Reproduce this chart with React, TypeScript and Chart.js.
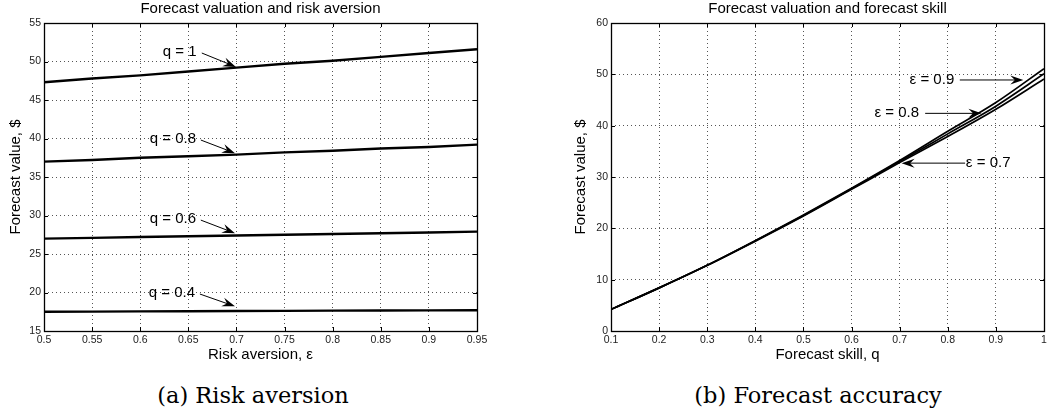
import React, { useEffect, useRef } from "react";
import { Chart, registerables } from "chart.js";

Chart.register(...registerables);

// ---------- data: panel (a) ----------
const riskAversion = [0.5, 0.55, 0.6, 0.65, 0.7, 0.75, 0.8, 0.85, 0.9, 0.95];
const valueQ10 = [47.3, 47.8, 48.2, 48.7, 49.2, 49.7, 50.1, 50.6, 51.1, 51.6];
const valueQ08 = [37.0, 37.2, 37.5, 37.7, 37.9, 38.2, 38.4, 38.7, 38.9, 39.2];
const valueQ06 = [27.0, 27.1, 27.2, 27.3, 27.4, 27.5, 27.6, 27.7, 27.8, 27.9];
const valueQ04 = [17.5, 17.52, 17.55, 17.57, 17.6, 17.62, 17.64, 17.66, 17.68, 17.7];

const leftXTicks = [0.5, 0.55, 0.6, 0.65, 0.7, 0.75, 0.8, 0.85, 0.9, 0.95];
const leftYTicks = [15, 20, 25, 30, 35, 40, 45, 50, 55];

const leftLabels = ["q = 1", "q = 0.8", "q = 0.6", "q = 0.4"];
const leftLabelX = [0.641, 0.634, 0.634, 0.633];
const leftLabelY = [51.3, 39.9, 29.5, 19.9];
const leftTailX = [0.664, 0.663, 0.663, 0.662];
const leftTailY = [51.1, 39.8, 29.4, 19.8];
const leftTipX = [0.6995, 0.6985, 0.6985, 0.6985];
const leftTipY = [49.3, 38.1, 27.7, 18.2];

// ---------- data: panel (b) ----------
const forecastSkill = [0.1, 0.2, 0.3, 0.4, 0.5, 0.6, 0.7, 0.8, 0.9, 1.0];
const valueEps07 = [4.2, 8.4, 12.8, 17.5, 22.4, 27.6, 32.8, 37.9, 43.2, 49.1];
const valueEps08 = [4.2, 8.4, 12.8, 17.6, 22.5, 27.7, 33.0, 38.4, 43.8, 50.1];
const valueEps09 = [4.2, 8.4, 12.8, 17.6, 22.6, 27.8, 33.2, 38.9, 44.5, 51.1];

const rightXTicks = [0.1, 0.2, 0.3, 0.4, 0.5, 0.6, 0.7, 0.8, 0.9, 1];
const rightYTicks = [0, 10, 20, 30, 40, 50, 60];

const rightLabels = ["ε = 0.9", "ε = 0.8", "ε = 0.7"];
const rightLabelX = [0.767, 0.694, 0.884];
const rightLabelY = [48.9, 42.4, 32.7];
const rightTailX = [0.825, 0.753, 0.836];
const rightTailY = [48.9, 42.4, 32.7];
const rightTipX = [0.957, 0.87, 0.704];
const rightTipY = [48.9, 42.4, 32.7];

const FONT = '"Liberation Sans", Arial, Helvetica, sans-serif';

type Ann = {
  labels: string[];
  lx: number[];
  ly: number[];
  tx: number[];
  ty: number[];
  hx: number[];
  hy: number[];
};

type PanelSpec = {
  width: number;
  height: number;
  padLeft: number;
  padRight: number;
  title: string;
  xTitle: string;
  yTitle: string;
  yTitlePad: number;
  xMin: number;
  xMax: number;
  yMin: number;
  yMax: number;
  xTicks: number[];
  yTicks: number[];
  xs: number[];
  smooth: boolean;
  series: { values: number[]; width: number }[];
  ann: Ann;
};

function drawArrow(ctx: CanvasRenderingContext2D, x1: number, y1: number, x2: number, y2: number) {
  const ang = Math.atan2(y2 - y1, x2 - x1);
  const c = Math.cos(ang);
  const s = Math.sin(ang);
  const len = 13;
  const hw = 4.5;
  ctx.save();
  ctx.strokeStyle = "#000";
  ctx.fillStyle = "#000";
  ctx.lineWidth = 1;
  ctx.beginPath();
  ctx.moveTo(x1, y1);
  ctx.lineTo(x2 - c * len * 0.6, y2 - s * len * 0.6);
  ctx.stroke();
  ctx.beginPath();
  ctx.moveTo(x2, y2);
  ctx.lineTo(x2 - c * len - s * hw, y2 - s * len + c * hw);
  ctx.lineTo(x2 - c * len * 0.65, y2 - s * len * 0.65);
  ctx.lineTo(x2 - c * len + s * hw, y2 - s * len - c * hw);
  ctx.closePath();
  ctx.fill();
  ctx.restore();
}

function Panel({ spec }: { spec: PanelSpec }) {
  const ref = useRef<HTMLCanvasElement | null>(null);

  useEffect(() => {
    const canvas = ref.current;
    if (!canvas) return;

    const framePlugin = {
      id: "frame",
      afterDatasetsDraw(chart: any) {
        const { ctx, chartArea } = chart;
        const { left, right, top, bottom } = chartArea;
        const xs = chart.scales.x;
        const ys = chart.scales.y;
        ctx.save();
        // inward tick marks
        ctx.strokeStyle = "#000";
        ctx.lineWidth = 1;
        ctx.beginPath();
        spec.xTicks.forEach((v) => {
          const px = Math.round(xs.getPixelForValue(v)) + 0.5;
          ctx.moveTo(px, bottom);
          ctx.lineTo(px, bottom - 4);
          ctx.moveTo(px, top);
          ctx.lineTo(px, top + 4);
        });
        spec.yTicks.forEach((v) => {
          const py = Math.round(ys.getPixelForValue(v)) + 0.5;
          ctx.moveTo(left, py);
          ctx.lineTo(left + 4, py);
          ctx.moveTo(right, py);
          ctx.lineTo(right - 4, py);
        });
        ctx.stroke();
        // box
        ctx.lineWidth = 1.3;
        ctx.strokeRect(Math.round(left) + 0.5, Math.round(top) + 0.5, Math.round(right - left), Math.round(bottom - top));
        // annotations
        const a = spec.ann;
        ctx.font = `15px ${FONT}`;
        ctx.fillStyle = "#000";
        ctx.textAlign = "center";
        ctx.textBaseline = "middle";
        a.labels.forEach((t, i) => {
          ctx.fillText(t, xs.getPixelForValue(a.lx[i]), ys.getPixelForValue(a.ly[i]));
          drawArrow(
            ctx,
            xs.getPixelForValue(a.tx[i]),
            ys.getPixelForValue(a.ty[i]),
            xs.getPixelForValue(a.hx[i]),
            ys.getPixelForValue(a.hy[i])
          );
        });
        // title
        ctx.font = `15px ${FONT}`;
        ctx.fillText(spec.title, (left + right) / 2, top - 14.5);
        ctx.restore();
      },
    };

    const chart = new Chart(canvas, {
      type: "line",
      data: {
        datasets: spec.series.map((s) => ({
          data: spec.xs.map((x, i) => ({ x, y: s.values[i] })),
          borderColor: "#000",
          borderWidth: s.width,
          pointRadius: 0,
          fill: false,
          tension: 0,
          cubicInterpolationMode: spec.smooth ? ("monotone" as const) : ("default" as const),
        })),
      },
      options: {
        animation: false,
        responsive: false,
        devicePixelRatio: 1,
        layout: { padding: { top: 23, right: spec.padRight, left: spec.padLeft, bottom: 0 } },
        plugins: { legend: { display: false }, tooltip: { enabled: false }, title: { display: false } },
        scales: {
          x: {
            type: "linear",
            min: spec.xMin,
            max: spec.xMax,
            afterBuildTicks: (s: any) => {
              s.ticks = spec.xTicks.map((v) => ({ value: v }));
            },
            afterFit: (s: any) => {
              s.height = spec.height - 331;
            },
            ticks: {
              autoSkip: false,
              maxRotation: 0,
              padding: 3,
              color: "#222",
              font: { family: FONT, size: 10.5 },
              callback: (v: any) => String(v),
            },
            grid: { color: "#555", lineWidth: 1, drawTicks: false },
            border: { display: false, dash: [1, 3] },
            title: {
              display: true,
              text: spec.xTitle,
              color: "#000",
              font: { family: FONT, size: 15 },
              padding: { top: 0, bottom: 4 },
            },
          },
          y: {
            type: "linear",
            min: spec.yMin,
            max: spec.yMax,
            afterBuildTicks: (s: any) => {
              s.ticks = spec.yTicks.map((v) => ({ value: v }));
            },
            afterFit: (s: any) => {
              s.width = 44;
            },
            ticks: {
              autoSkip: false,
              padding: 3,
              color: "#222",
              font: { family: FONT, size: 10.5 },
              callback: (v: any) => String(v),
            },
            grid: { color: "#555", lineWidth: 1, drawTicks: false },
            border: { display: false, dash: [1, 3] },
            title: {
              display: true,
              text: spec.yTitle,
              color: "#000",
              font: { family: FONT, size: 15 },
              padding: { top: spec.yTitlePad, bottom: 0 },
            },
          },
        },
      },
      plugins: [framePlugin],
    } as any);

    return () => chart.destroy();
  }, [spec]);

  return (
    <canvas
      ref={ref}
      width={spec.width}
      height={spec.height}
      style={{ width: spec.width, height: spec.height, display: "block" }}
    />
  );
}

const leftSpec: PanelSpec = {
  width: 530,
  height: 368,
  padLeft: 0,
  padRight: 53,
  title: "Forecast valuation and risk aversion",
  xTitle: "Risk aversion, ε",
  yTitle: "Forecast value, $",
  yTitlePad: 7,
  xMin: 0.5,
  xMax: 0.95,
  yMin: 15,
  yMax: 55,
  xTicks: leftXTicks,
  yTicks: leftYTicks,
  xs: riskAversion,
  smooth: false,
  series: [
    { values: valueQ10, width: 2.4 },
    { values: valueQ08, width: 2.4 },
    { values: valueQ06, width: 2.4 },
    { values: valueQ04, width: 2.4 },
  ],
  ann: {
    labels: leftLabels,
    lx: leftLabelX,
    ly: leftLabelY,
    tx: leftTailX,
    ty: leftTailY,
    hx: leftTipX,
    hy: leftTipY,
  },
};

const rightSpec: PanelSpec = {
  width: 529,
  height: 368,
  padLeft: 37,
  padRight: 15,
  title: "Forecast valuation and forecast skill",
  xTitle: "Forecast skill, q",
  yTitle: "Forecast value, $",
  yTitlePad: 5,
  xMin: 0.1,
  xMax: 1,
  yMin: 0,
  yMax: 60,
  xTicks: rightXTicks,
  yTicks: rightYTicks,
  xs: forecastSkill,
  smooth: true,
  series: [
    { values: valueEps07, width: 1.7 },
    { values: valueEps08, width: 1.7 },
    { values: valueEps09, width: 1.7 },
  ],
  ann: {
    labels: rightLabels,
    lx: rightLabelX,
    ly: rightLabelY,
    tx: rightTailX,
    ty: rightTailY,
    hx: rightTipX,
    hy: rightTipY,
  },
};

const captionStyle: React.CSSProperties = {
  position: "absolute",
  top: 383,
  fontFamily: '"DejaVu Serif", "Liberation Serif", serif',
  fontSize: 22.5,
  lineHeight: "24px",
  color: "#000",
  whiteSpace: "nowrap",
  transform: "translateX(-50%)",
};

export default function App() {
  return (
    <div
      style={{
        position: "absolute",
        left: 0,
        top: 0,
        width: 1059,
        height: 418,
        background: "#fff",
        overflow: "hidden",
      }}
    >
      <div style={{ position: "absolute", left: 0, top: 0 }}>
        <Panel spec={leftSpec} />
      </div>
      <div style={{ position: "absolute", left: 530, top: 0 }}>
        <Panel spec={rightSpec} />
      </div>
      <div style={{ ...captionStyle, left: 253 }}>(a) Risk aversion</div>
      <div style={{ ...captionStyle, left: 818 }}>(b) Forecast accuracy</div>
    </div>
  );
}
